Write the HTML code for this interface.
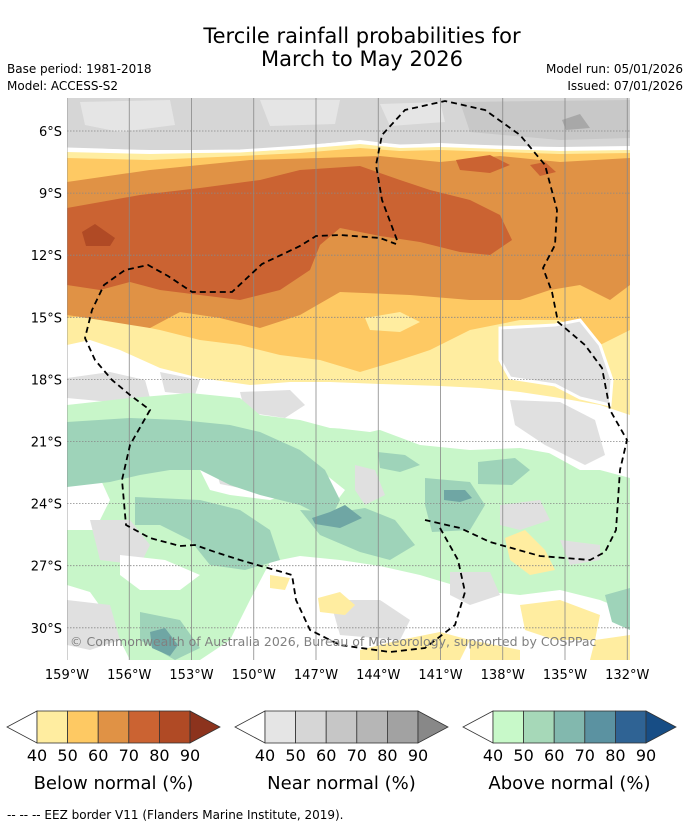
<!DOCTYPE html>
<html><head><meta charset="utf-8"><style>
body{margin:0;background:#fff;width:690px;height:827px;overflow:hidden;font-family:"Liberation Sans","DejaVu Sans",sans-serif}
svg{position:absolute;left:0;top:0}
</style></head><body>
<svg id="chart" width="690" height="827" font-family="DejaVu Sans, Liberation Sans, sans-serif">
<text x="362" y="43" font-size="21" text-anchor="middle">Tercile rainfall probabilities for</text>
<text x="362" y="66" font-size="21" text-anchor="middle">March to May 2026</text>
<text x="7" y="73" font-size="12">Base period: 1981-2018</text>
<text x="7" y="90" font-size="12">Model: ACCESS-S2</text>
<text x="683" y="73" font-size="12" text-anchor="end">Model run: 05/01/2026</text>
<text x="683" y="90" font-size="12" text-anchor="end">Issued: 07/01/2026</text>
<defs><clipPath id="mc"><rect x="67" y="98" width="563" height="562"/></clipPath></defs>
<g clip-path="url(#mc)">
<rect x="67" y="98" width="563" height="562" fill="#fff"/>
<polygon fill="#d6d6d6" points="67,98 630,98 630,146 560,147 500,146 440,143 400,145 360,140 300,146 240,150 150,150 67,148"/>
<polygon fill="#e5e5e5" points="80,102 170,100 175,125 120,132 85,125"/>
<polygon fill="#e5e5e5" points="260,100 340,100 335,124 270,126"/>
<polygon fill="#e5e5e5" points="380,104 440,102 445,122 390,126"/>
<polygon fill="#c8c8c8" points="460,102 630,100 630,138 560,140 470,132"/>
<polygon fill="#a8a8a8" points="562,120 580,114 590,128 566,130"/>
<polygon fill="#ffeda0" points="67,152 150,154 240,152 300,149 360,144 400,148 440,147 500,149 560,151 630,150 630,415 600,405 560,398 520,392 480,388 440,386 380,384 330,382 290,382 250,385 200,378 160,368 120,350 90,340 67,345"/>
<polygon fill="#fec963" points="67,158 150,160 240,156 300,153 360,148 400,151 440,150 500,152 560,154 630,153 630,330 600,345 560,320 520,320 470,330 430,350 400,360 360,372 320,360 280,355 240,345 200,340 160,330 120,322 90,315 67,318"/>
<polygon fill="#e09245" points="67,182 150,170 250,160 320,158 380,156 440,162 500,156 560,162 630,158 630,285 610,300 580,285 550,290 520,300 470,300 410,295 340,292 300,315 260,328 220,318 180,312 150,328 100,320 67,315"/>
<polygon fill="#ffeda0" points="365,318 400,312 420,322 400,332 370,330"/>
<polygon fill="#cb6332" points="67,208 140,195 200,188 260,180 300,170 360,166 400,180 430,190 470,200 500,215 512,240 490,255 460,252 420,242 380,236 340,228 320,245 310,270 280,290 240,300 200,295 160,290 130,282 100,290 67,285"/>
<polygon fill="#cb6332" points="456,160 490,155 510,165 490,173 460,170"/>
<polygon fill="#cb6332" points="530,165 545,162 556,172 540,176"/>
<polygon fill="#b04a25" points="82,232 95,224 115,238 110,246 86,246"/>
<polyline fill="none" stroke="#fff" stroke-width="3" points="67,149 100,150 150,152 240,151 300,147 360,142 400,146 440,145 500,147 560,149 630,148"/>
<polygon fill="#e0e0e0" stroke="#fff" stroke-width="3" points="500,328 555,325 580,320 600,345 612,380 610,405 580,398 555,385 510,378 500,360"/>
<polygon fill="#e0e0e0" points="67,378 110,372 145,380 150,398 110,402 67,398"/>
<polygon fill="#e0e0e0" points="240,392 290,390 305,405 285,418 245,412"/>
<polygon fill="#e0e0e0" points="160,372 200,380 195,395 165,392"/>
<polygon fill="#c8f6c9" points="67,405 130,398 190,393 240,398 260,415 300,420 330,428 380,430 420,445 470,450 520,448 560,455 600,470 630,478 630,612 600,600 560,590 520,595 470,590 420,575 380,566 340,560 300,556 270,562 250,600 230,640 200,660 130,660 110,620 90,592 67,585"/>
<polygon fill="#fff" points="200,470 240,460 280,470 300,490 270,500 230,495 210,490"/>
<polygon fill="#e0e0e0" points="215,466 250,462 270,478 240,488 220,484"/>
<polygon fill="#fff" points="290,478 320,470 345,490 330,510 300,505"/>
<polygon fill="#fff" points="330,405 380,410 400,425 370,432 335,428"/>
<polygon fill="#e0e0e0" points="355,465 375,470 385,495 365,505 355,490"/>
<polygon fill="#fff" points="500,400 560,400 600,420 620,440 610,470 580,470 540,448 500,430"/>
<polygon fill="#e0e0e0" points="510,400 560,402 595,420 605,455 585,465 545,445 515,425"/>
<polygon fill="#fff" points="67,470 100,478 110,500 95,530 67,530"/>
<polygon fill="#e0e0e0" points="90,520 130,520 150,545 140,565 100,560"/>
<polygon fill="#9ed3b9" points="67,422 130,418 180,420 230,425 260,432 300,450 325,470 340,500 330,520 300,505 260,495 230,485 200,470 170,470 140,475 110,482 67,487"/>
<polygon fill="#9ed3b9" points="135,497 200,500 240,510 270,530 280,560 245,570 210,565 190,540 160,525 135,525"/>
<polygon fill="#9ed3b9" points="300,510 340,512 365,508 395,520 415,545 390,560 360,552 320,535"/>
<polygon fill="#9ed3b9" points="425,478 470,482 485,505 470,530 432,532 425,505"/>
<polygon fill="#9ed3b9" points="478,462 515,458 530,470 512,485 478,484"/>
<polygon fill="#9ed3b9" points="378,452 405,455 420,465 400,472 380,468"/>
<polygon fill="#9ed3b9" points="140,612 180,620 200,648 175,660 140,640"/>
<polygon fill="#9ed3b9" points="605,595 630,588 630,630 612,622"/>
<polygon fill="#6fa6a4" points="312,518 330,512 345,505 362,518 340,528 315,524"/>
<polygon fill="#6fa6a4" points="444,490 465,490 472,498 460,502 444,500"/>
<polygon fill="#6fa6a4" points="150,632 165,628 178,645 170,656 152,648"/>
<polygon fill="#e0e0e0" points="67,600 110,605 120,640 90,650 67,645"/>
<polygon fill="#e0e0e0" points="330,600 380,600 410,620 400,640 340,635"/>
<polygon fill="#e0e0e0" points="450,572 490,572 500,595 470,605 450,595"/>
<polygon fill="#e0e0e0" points="500,505 540,500 550,520 520,530 500,525"/>
<polygon fill="#e0e0e0" points="560,540 600,545 600,560 570,565"/>
<polygon fill="#fff" points="120,555 165,560 200,575 180,590 140,590 120,575"/>
<polygon fill="#fff" points="270,575 300,585 310,610 290,640 260,625"/>
<polygon fill="#ffeda0" points="505,538 525,530 545,550 555,570 530,575 510,560"/>
<polygon fill="#ffeda0" points="318,598 340,592 355,605 345,615 320,612"/>
<polygon fill="#ffeda0" points="360,650 400,640 440,632 470,640 460,660 360,660"/>
<polygon fill="#ffeda0" points="520,605 560,600 600,615 595,640 555,640 525,630"/>
<polygon fill="#ffeda0" points="470,640 520,650 520,660 470,660"/>
<polygon fill="#ffeda0" points="595,640 630,635 630,660 590,660"/>
<polygon fill="#ffeda0" points="270,575 290,578 285,590 270,588"/>
<g id="grid" stroke="#888" stroke-width="0.8"></g>
<polyline fill="none" stroke="#000" stroke-width="1.8" stroke-dasharray="6,4" points="397,240 382,200 376,165 382,135 405,110 445,101 485,110 520,135 545,165 557,210 555,245 543,268 552,292 558,322 585,345 602,368 610,410 627,440 620,470 616,530 605,552 590,560 540,556 490,542 460,528 425,520"/>
<polyline fill="none" stroke="#000" stroke-width="1.8" stroke-dasharray="6,4" points="440,528 458,560 465,592 455,625 425,648 390,652 340,645 310,630 296,600 292,575 268,568 240,560 215,552 195,545 180,546 150,538 126,525 122,480 130,445 150,410 130,395 112,380 95,360 85,338 92,310 104,285 125,270 148,265 168,276 192,292 232,292 262,264 300,246 316,236 340,235 380,238 396,244"/>
<text x="70" y="646" font-size="12.5" fill="#808080">© Commonwealth of Australia 2026, Bureau of Meteorology, supported by COSPPac</text>
</g>
<g id="axes" font-size="13"></g>
<g id="legends"></g>
<text x="7" y="819" font-size="12">--  --  -- EEZ border V11 (Flanders Marine Institute, 2019).</text>
</svg>
<script>
const latTicks=[6,9,12,15,18,21,24,27,30];
const lonTicks=[159,156,153,150,147,144,141,138,135,132];
const legendTitles=["Below normal (%)","Near normal (%)","Above normal (%)"];
const legendTickLabels=["40","50","60","70","80","90"];
const belowColors=["#ffeda0","#fec963","#e09245","#cb6332","#b04a25","#8c331d"];
const nearColors=["#e5e5e5","#d6d6d6","#c6c6c6","#b6b6b6","#a2a2a2","#888888"];
const aboveColors=["#c8f9c9","#a6d8b8","#82b8ae","#5b92a1","#2f6394","#174d85"];
const NS="http://www.w3.org/2000/svg";
function yLat(l){return 131+(l-6)*20.7;}
function xLon(l){return 67+(159-l)*20.75;}
function mk(t,a,p){const e=document.createElementNS(NS,t);for(const k in a)e.setAttribute(k,a[k]);p.appendChild(e);return e;}
const grid=document.getElementById('grid'),axes=document.getElementById('axes');
latTicks.forEach(l=>{const y=yLat(l);
 const g=mk('line',{x1:67,x2:630,y1:y,y2:y,'stroke-dasharray':'1.5,1.5'},grid);
 
 
 const t=mk('text',{x:62,y:y+5,'text-anchor':'end'},axes);t.textContent=l+'°S';
 
 });
lonTicks.forEach(l=>{const x=xLon(l);
 const g=mk('line',{x1:x,x2:x,y1:98,y2:660},grid);
 
 
 const t=mk('text',{x:x,y:679,'text-anchor':'middle'},axes);t.textContent=l+'°W';
 
 });
const leg=document.getElementById('legends');
[belowColors,nearColors,aboveColors].forEach((cols,i)=>{
 const x0=7+i*228,y0=711,h=32,bw=30.6,bx=x0+30;
 const g=mk('g',{},leg);
 
 
 mk('polygon',{points:`${bx},${y0} ${x0},${y0+h/2} ${bx},${y0+h}`,fill:'#fff',stroke:'#333','stroke-width':0.8},g);
 for(let k=0;k<5;k++){mk('rect',{x:bx+k*bw,y:y0,width:bw,height:h,fill:cols[k],stroke:'#333','stroke-width':0.8},g);}
 const ex=bx+5*bw;
 mk('polygon',{points:`${ex},${y0} ${ex+30},${y0+h/2} ${ex},${y0+h}`,fill:cols[5],stroke:'#333','stroke-width':0.8},g);
 legendTickLabels.forEach((s,k)=>{const t=mk('text',{x:bx+k*bw,y:761,'font-size':16,'text-anchor':'middle'},g);t.textContent=s;
  
  });
 const tt=mk('text',{x:bx+2.5*bw,y:789,'font-size':18,'text-anchor':'middle'},g);tt.textContent=legendTitles[i];
 
 
});
</script>
</body></html>
